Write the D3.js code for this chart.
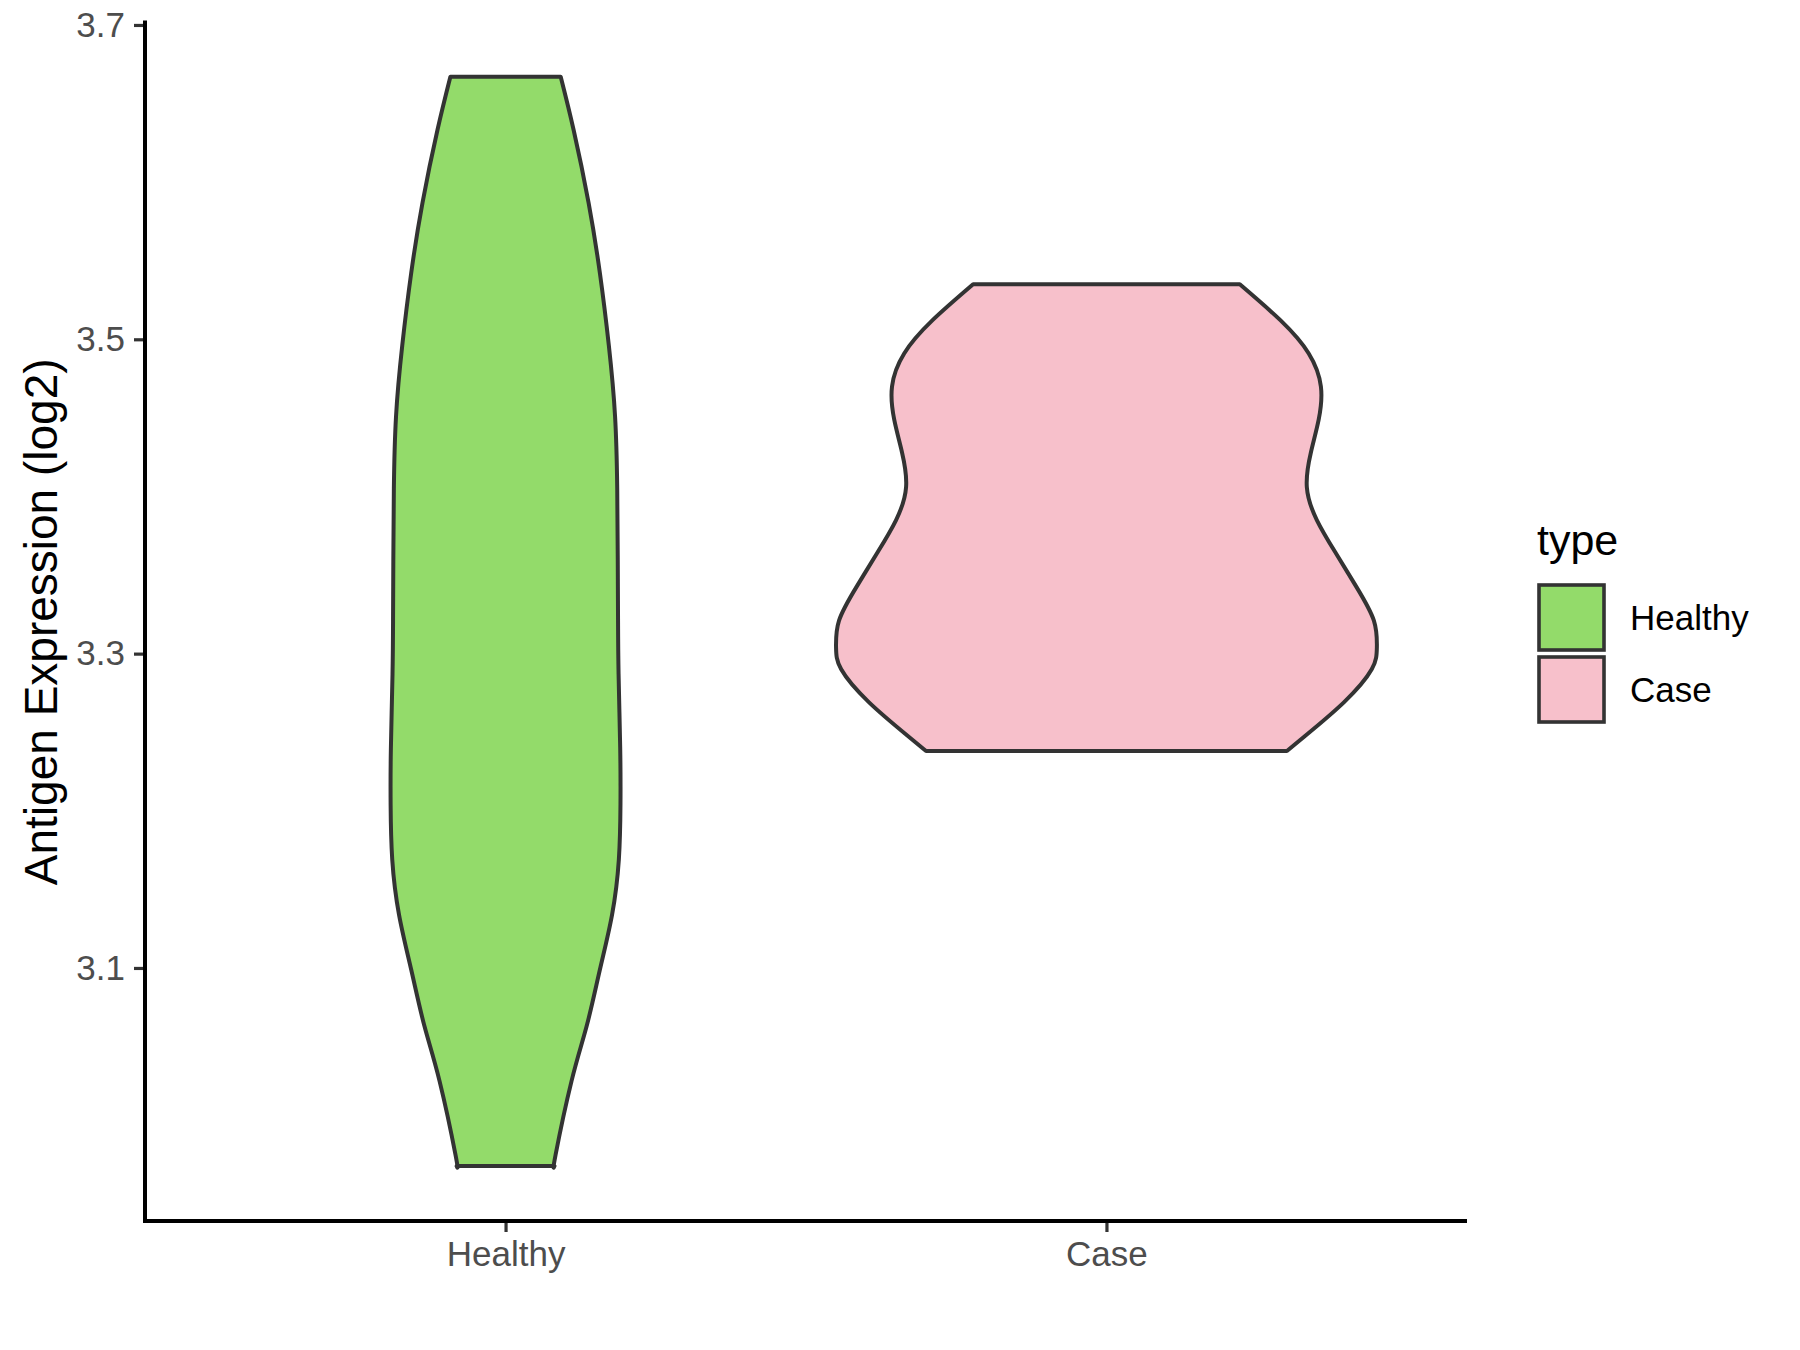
<!DOCTYPE html>
<html>
<head>
<meta charset="utf-8">
<script src="https://d3js.org/d3.v7.min.js"></script>
<style>
  body { margin: 0; background: #fff; }
  text { font-family: "Liberation Sans", Arial, sans-serif; }
</style>
</head>
<body>
<svg width="1800" height="1350"></svg>
<script>

// categories and colours
var groups = ['Healthy', 'Case'];
var fills = ['#93DB6A', '#F7C0CB'];
var yTicks = [3.1, 3.3, 3.5, 3.7];

// violin outlines: expression value and relative density (1 = widest)
var healthyExpr = [3.667, 3.633, 3.587, 3.542, 3.496, 3.451, 3.405, 3.360, 3.322, 3.287,
  3.240, 3.204, 3.169, 3.134, 3.099, 3.063, 3.028, 2.981, 2.974];
var healthyDens = [0.204, 0.252, 0.307, 0.349, 0.382, 0.405, 0.413, 0.415, 0.416, 0.418,
  0.424, 0.425, 0.419, 0.394, 0.349, 0.300, 0.244, 0.185, 0.181];

var caseExpr = [3.535, 3.512, 3.491, 3.470, 3.449, 3.428, 3.406, 3.385, 3.364, 3.342,
  3.321, 3.304, 3.290, 3.269, 3.247, 3.238];
var caseDens = [0.493, 0.644, 0.748, 0.793, 0.785, 0.756, 0.741, 0.778, 0.848, 0.926,
  0.989, 1.0, 0.981, 0.878, 0.730, 0.667];

var violins = [
  {name: 'Healthy', expr: healthyExpr, dens: healthyDens},
  {name: 'Case', expr: caseExpr, dens: caseDens}
];

var svg = d3.select('svg');
var plotLeft = 145, plotRight = 1467, plotTop = 22.6, plotBottom = 1221;

var x = d3.scalePoint().domain(groups).range([plotLeft, plotRight]).padding(0.6);
var y = d3.scaleLinear().domain([2.939, 3.7015]).range([plotBottom, plotTop]);
var w = d3.scaleLinear().domain([0, 1]).range([0, x.step() * 0.45]);
var color = d3.scaleOrdinal().domain(groups).range(fills);

// violins
violins.forEach(function(v) {
  var pts = v.expr.map(function(e, i) { return {e: e, d: v.dens[i]}; });
  var area = d3.area()
    .curve(d3.curveNatural)
    .y(function(p) { return y(p.e); })
    .x0(function(p) { return x(v.name) - w(p.d); })
    .x1(function(p) { return x(v.name) + w(p.d); });
  svg.append('path')
    .attr('d', area(pts))
    .attr('fill', color(v.name))
    .attr('stroke', '#333333')
    .attr('stroke-width', 4)
    .attr('stroke-linejoin', 'round');
});

// axes
var yAxis = svg.append('g')
  .attr('transform', 'translate(' + plotLeft + ',0)')
  .call(d3.axisLeft(y).tickValues(yTicks).tickFormat(d3.format('.1f')).tickSize(11).tickPadding(9));
var xAxis = svg.append('g')
  .attr('transform', 'translate(0,' + plotBottom + ')')
  .call(d3.axisBottom(x).tickSize(11).tickPadding(9));

[yAxis, xAxis].forEach(function(g) {
  g.select('.domain').remove();
  g.selectAll('.tick line').attr('stroke', '#333333').attr('stroke-width', 3.2);
  g.selectAll('.tick text')
    .attr('fill', '#4D4D4D')
    .style('font-size', '35px')
    .style('font-family', '"Liberation Sans", Arial, sans-serif');
});
xAxis.selectAll('.tick text').attr('dy', '0.7em');

svg.append('line')
  .attr('x1', plotLeft).attr('x2', plotLeft).attr('y1', plotTop).attr('y2', plotBottom)
  .attr('stroke', 'black').attr('stroke-width', 4).attr('stroke-linecap', 'square');
svg.append('line')
  .attr('x1', plotLeft).attr('x2', plotRight).attr('y1', plotBottom).attr('y2', plotBottom)
  .attr('stroke', 'black').attr('stroke-width', 4).attr('stroke-linecap', 'butt');

// y axis title
svg.append('text')
  .attr('transform', 'translate(57,' + (plotTop + plotBottom) / 2 + ') rotate(-90)')
  .attr('text-anchor', 'middle')
  .style('font-size', '46px')
  .attr('fill', 'black')
  .text('Antigen Expression (log2)');

// legend
var legend = svg.append('g');
legend.append('text')
  .attr('x', 1537).attr('y', 555)
  .style('font-size', '43px')
  .text('type');

legend.selectAll('rect')
  .data(groups)
  .enter().append('rect')
  .attr('x', 1539)
  .attr('y', function(d, i) { return 585 + i * 72; })
  .attr('width', 65)
  .attr('height', 65)
  .attr('fill', function(d) { return color(d); })
  .attr('stroke', '#333333')
  .attr('stroke-width', 3.6);

legend.selectAll('text.lab')
  .data(groups)
  .enter().append('text')
  .attr('class', 'lab')
  .attr('x', 1630)
  .attr('y', function(d, i) { return 617.5 + i * 72; })
  .attr('dy', '0.35em')
  .style('font-size', '35px')
  .text(function(d) { return d; });

</script>
</body>
</html>
